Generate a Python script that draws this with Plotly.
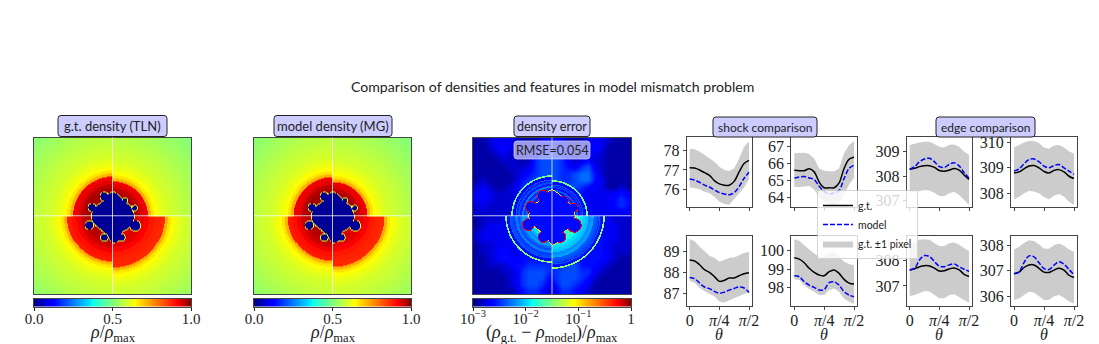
import numpy as np
import plotly.graph_objects as go

# ---------- text ----------
TITLE = "Comparison of densities and features in model mismatch problem"
IMAGE_TITLES = ["g.t. density (TLN)", "model density (MG)", "density error"]
GROUP_TITLES = ["shock comparison", "edge comparison"]
LEGEND_NAMES = ["g.t.", "model", "g.t. ±1 pixel"]

# ---------- line panels: values read at 13 equally spaced angles 0..pi/2 ----------
THETA = [i * np.pi / 24 for i in range(13)]
THETA_TICKS = [0, np.pi / 4, np.pi / 2]
THETA_LABELS = ["0", "<i>π</i>/4", "<i>π</i>/2"]

A_gt = [77.12,77.10,77.0,76.86,76.72,76.45,76.28,76.21,76.21,76.41,76.9,77.33,77.5]
A_model = [76.53,76.48,76.36,76.22,76.12,75.97,75.83,75.76,75.72,75.83,76.14,76.57,76.88]
A_up = [78.1,78.07,77.95,77.78,77.6,77.43,77.17,77.0,76.95,77.09,77.6,78.2,78.47]
A_low = [76.1,76.07,76.0,75.88,75.8,75.62,75.36,75.24,75.2,75.45,75.8,76.1,76.52]

B_gt = [65.6,65.57,65.57,65.68,65.5,64.9,64.56,64.56,64.56,64.85,65.7,66.25,66.37]
B_model = [65.13,65.2,65.22,65.14,65.04,64.65,64.34,64.2,64.25,64.4,65.1,65.7,65.9]
B_up = [66.6,66.6,66.63,66.55,66.3,65.7,65.57,65.53,65.53,65.7,66.6,67.1,67.33]
B_low = [64.6,64.6,64.63,64.67,64.45,64.0,63.75,63.6,63.45,63.65,64.15,64.75,65.15]

E_gt = [88.6,88.55,88.37,88.13,88.0,87.8,87.57,87.62,87.73,87.73,87.84,87.94,87.98]
E_model = [87.76,87.7,87.49,87.3,87.22,87.09,87.0,87.05,87.15,87.23,87.3,87.25,87.04]
E_up = [89.6,89.5,89.25,89.0,88.8,88.7,88.53,88.6,88.7,88.72,88.82,88.93,88.98]
E_low = [87.6,87.5,87.25,87.09,86.98,86.85,86.6,86.55,86.65,86.76,86.85,86.96,87.04]

F_gt = [99.6,99.53,99.34,99.04,98.82,98.68,98.64,98.86,98.95,98.77,98.45,98.25,98.2]
F_model = [98.64,98.59,98.32,98.14,98.02,97.88,97.91,98.27,98.32,98.14,97.79,97.61,97.52]
F_up = [100.6,100.52,100.28,100.05,99.84,99.66,99.66,99.88,99.93,99.66,99.39,99.27,99.21]
F_low = [98.46,98.41,98.14,97.93,97.79,97.61,97.61,97.88,97.96,97.79,97.43,97.25,97.13]

C_gt = [308.27,308.31,308.38,308.42,308.42,308.35,308.22,308.19,308.24,308.3,308.24,308.04,307.86]
C_model = [308.27,308.38,308.58,308.69,308.72,308.58,308.38,308.35,308.47,308.54,308.41,308.14,307.91]
C_up = [309.26,309.32,309.36,309.39,309.39,309.3,309.19,309.16,309.27,309.28,309.19,308.99,308.85]
C_low = [307.3,307.32,307.39,307.43,307.41,307.32,307.19,307.19,307.3,307.36,307.23,307.03,306.82]

D_gt = [308.8,308.84,308.96,309.07,309.09,309.0,308.86,308.8,308.9,308.93,308.84,308.67,308.58]
D_model = [308.87,308.96,309.16,309.33,309.35,309.24,309.07,309.0,309.09,309.13,309.0,308.87,308.74]
D_up = [309.8,309.9,310,310.05,310.05,309.98,309.8,309.75,309.88,309.9,309.8,309.65,309.55]
D_low = [307.77,307.85,308,308.09,308.07,308,307.85,307.77,307.9,307.97,307.87,307.67,307.54]

G_gt = [307.63,307.68,307.76,307.8,307.79,307.7,307.59,307.6,307.67,307.71,307.63,307.46,307.37]
G_model = [307.63,307.7,308.03,308.2,308.16,307.96,307.78,307.76,307.83,307.87,307.76,307.66,307.57]
G_up = [308.62,308.72,308.82,308.84,308.82,308.68,308.58,308.58,308.68,308.71,308.62,308.49,308.38]
G_low = [306.6,306.64,306.71,306.8,306.78,306.64,306.51,306.51,306.64,306.67,306.58,306.45,306.34]

H_gt = [306.89,306.95,307.13,307.23,307.23,307.1,306.95,306.94,307.03,307.1,307.03,306.83,306.74]
H_model = [306.89,306.96,307.32,307.58,307.54,307.31,307.09,307.05,307.22,307.35,307.26,307.05,306.85]
H_up = [307.83,307.93,308.08,308.19,308.16,308.03,307.86,307.86,307.99,308.06,307.97,307.83,307.74]
H_low = [305.87,305.93,306.06,306.19,306.16,306.02,305.87,305.87,306.02,306.06,305.96,305.81,305.74]

# ---------- density fields: values ----------
# shock radius in image pixels per quadrant: upper-right, upper-left, lower-left, lower-right
SHOCK_GT = [35, 40, 46, 52]
SHOCK_MODEL = [34.5, 39.5, 45.5, 51.5]
# density outside the shock, every 3 px of distance from it
DENS_OUTER = [.72,.665,.64,.625,.615,.605,.595,.59,.585,.58,.575,.57,.566,.56,.555,.55,.545,.54,.535,.53,
              .525,.52,.515,.51,.505,.50,.495,.49,.485,.48,.48,.48,.48,.48,.48,.48,.48,.48,.48,.48]
# density inside the shock, per tenth of the shock radius
DENS_INNER_UR = [.975,.975,.975,.975,.975,.975,.97,.955,.93,.92,.92]
DENS_INNER_UL = [.975,.975,.975,.975,.975,.975,.975,.96,.93,.92,.92]
DENS_INNER_LL = [.965,.965,.965,.965,.965,.96,.945,.92,.895,.885,.885]
DENS_INNER_LR = [.935,.935,.935,.935,.935,.93,.91,.885,.875,.87,.87]
# outline of the central blob: radius in px every 15 degrees
CORE_RADIUS = [21.5,20,20.5,18.5,19,21.5,24.7,21.5,18,18,19.5,20.7,21.5,20.5,19,17.5,18,19,27.5,24.6,17.5,18.5,19.5,20]
# round lobes on the outline: dx, dy, radius in px
LOBE_DX = [21.7, 12, -8.7, -21, -23.7, 22.3, -8.7, 8.3]
LOBE_DY = [8.3, 15.7, 20, 9, -8.7, -9.3, -21, -21]
LOBE_R = [2.5, 2.5, 4, 3.7, 4, 5, 3.5, 3.5]

# error (log10), coarse background, one digit = -3 + 0.1*d, top row first
ERR_BACKGROUND = [
    "112333211134431113332111",
    "112343211244442113431111",
    "111232211355553123321111",
    "111122212566653234221111",
    "111112223566654356321111",
    "111111234566655677421111",
    "121111245666655677431111",
    "232112355666656654331121",
    "343222344444444443333343",
    "333222344444444443333454",
    "232222344444444443333454",
    "222222344444444443333333",
    "122233344444444443333222",
    "123333344444444444433322",
    "233333344444444444433322",
    "233333344444444444443322",
    "122333344444444444443222",
    "122343344444444444443222",
    "112344344444444444443211",
    "112223445555556644432111",
    "111122356665566655321111",
    "111112356664566654211111",
    "111112356653466543111111",
    "111111245542355432111111",
]
# error inside the shock, per twentieth of the shock radius
ERR_INNER_UR = [-2.5]*8 + [-2.35,-2.25,-2.5,-2.6,-2.4,-2.55,-2.35,-2.6,-2.45,-2.6,-2.65,-2.6,-2.6]
ERR_INNER_UL = [-2.5]*8 + [-2.35,-2.2,-2.5,-2.55,-2.3,-2.5,-2.25,-2.55,-2.4,-2.55,-2.65,-2.6,-2.6]
ERR_INNER_LL = [-2.1]*8 + [-2.0,-1.95,-2.05,-2.2,-2.15,-2.3,-2.4,-2.25,-2.45,-2.4,-2.6,-2.6,-2.6]
ERR_INNER_LR = [-1.9]*8 + [-1.8,-1.75,-1.85,-1.95,-2.0,-2.05,-2.2,-2.15,-2.35,-2.4,-2.55,-2.6,-2.6]
ERR_SHOCK = [-1.55, -1.55, -1.5, -1.45]
ERR_RIM = -1.0
ERR_LOBE_RIM = -0.25
ERR_TICKS = [-3, -2, -1, 0]
ERR_TICK_LABELS = ["10<sup>−3</sup>", "10<sup>−2</sup>", "10<sup>−1</sup>", "1"]
DENS_TICKS = [0, 0.5, 1]
DENS_TICK_LABELS = ["0.0", "0.5", "1.0"]

JET = [[0, "#00007f"], [.11, "#0000ff"], [.125, "#0000ff"], [.35, "#00e0ff"], [.375, "#0cffeb"],
       [.64, "#ffff00"], [.66, "#ffe900"], [.89, "#ff1300"], [.91, "#ff0000"], [1, "#7f0000"]]

SERIF = "Liberation Serif"
SANS = "Lato"
W, H = 1099, 344


def px(x):
    return x / W


def py(y):
    return 1 - y / H


# ---------- build the fields on the image's pixel grid ----------
cells = np.arange(-78.5, 79, 1.0)
X, Y = np.meshgrid(cells, cells)
RAD = np.hypot(X, Y)
ANG = np.degrees(np.arctan2(Y, X)) % 360
QUAD = np.where(Y >= 0, np.where(X >= 0, 0, 1), np.where(X < 0, 2, 3))

core_edge = np.interp(ANG, np.arange(0, 360, 15), CORE_RADIUS, period=360)


def blob_masks(grow, rim_width):
    inside = RAD < core_edge + grow
    rim = RAD < core_edge + grow + rim_width
    lobes = np.zeros_like(RAD, dtype=bool)
    lobe_rim = np.zeros_like(RAD, dtype=bool)
    for dx, dy, rr in zip(LOBE_DX, LOBE_DY, LOBE_R):
        d = np.hypot(X - dx, Y - dy)
        lobes |= d < rr + grow
        lobe_rim |= d < rr + grow + rim_width
    return inside | lobes, rim & ~(inside | lobes), lobe_rim & ~(inside | lobes)


def density(shock):
    R = np.array(shock, float)[QUAD]
    outer = np.array(DENS_OUTER)[np.clip(((RAD - R) / 3).astype(int), 0, len(DENS_OUTER) - 1)]
    inner_tables = np.array([DENS_INNER_UR, DENS_INNER_UL, DENS_INNER_LL, DENS_INNER_LR])
    inner = inner_tables[QUAD, np.clip((RAD / R * 10).astype(int), 0, 10)]
    z = np.where(RAD > R, outer, inner)
    blob, rim, lobe_rim = blob_masks(0, 0.8)
    z[rim | lobe_rim] = 0.62
    z[blob] = 0.02
    return z


def error_overlay():
    R = np.array(SHOCK_GT, float)[QUAD]
    tables = np.array([ERR_INNER_UR, ERR_INNER_UL, ERR_INNER_LL, ERR_INNER_LR])
    z = tables[QUAD, np.clip((RAD / R * 20).astype(int), 0, 20)].astype(float)
    z[np.abs(RAD - R + 4) < 0.5] = -2.35
    ring = np.abs(RAD - R) < 0.8
    z[ring] = np.array(ERR_SHOCK)[QUAD][ring]
    z[RAD > R + 0.8] = np.nan
    blob, rim, lobe_rim = blob_masks(1.4, 0.9)
    z[rim] = ERR_RIM
    z[lobe_rim] = ERR_LOBE_RIM
    z[blob] = np.nan
    return z


err_coarse = -3 + 0.1 * np.array([[int(c) for c in row] for row in ERR_BACKGROUND[::-1]], float)
coarse_cells = np.linspace(-79 + 158 / 48, 79 - 158 / 48, 24)

fig = go.Figure()

IMAGE_PANELS = [(34, 191), (254, 411), (473, 631)]
IMG_TOP, IMG_BOTTOM = 137.5, 294
BAR_TOP, BAR_BOTTOM = 298.5, 306.5
layout = {}
INK = "#222222"


def style_frame(ax):
    ax.update(mirror=True, showline=True, linecolor="#444444", linewidth=1, showgrid=False, zeroline=False,
              automargin=False)
    return ax


for i, (x0, x1) in enumerate(IMAGE_PANELS):
    n = i + 1
    suffix = "" if n == 1 else str(n)
    layout["xaxis" + suffix] = style_frame(dict(domain=[px(x0), px(x1)], range=[-79, 79], anchor="y" + suffix,
                                                showticklabels=False, ticks=""))
    layout["yaxis" + suffix] = style_frame(dict(domain=[py(IMG_BOTTOM), py(IMG_TOP)], range=[-79, 79], anchor="x" + suffix,
                                                showticklabels=False, ticks=""))
    xa, ya = "x" + suffix, "y" + suffix
    if i < 2:
        fig.add_trace(go.Heatmap(x=cells, y=cells, z=density(SHOCK_GT if i == 0 else SHOCK_MODEL), zsmooth="best",
                                 colorscale=JET, zmin=0, zmax=1, xaxis=xa, yaxis=ya, hoverinfo="skip", showscale=False))
    else:
        fig.add_trace(go.Heatmap(x=coarse_cells, y=coarse_cells, z=err_coarse, zsmooth="best",
                                 colorscale=JET, zmin=-3, zmax=0, xaxis=xa, yaxis=ya, hoverinfo="skip", showscale=False))
        fig.add_trace(go.Heatmap(x=cells, y=cells, z=error_overlay(),
                                 colorscale=JET, zmin=-3, zmax=0, xaxis=xa, yaxis=ya, hoverinfo="skip", showscale=False))
    # colour bar as a small axis of its own
    lo, hi = (0.0, 1.0) if i < 2 else (-3.0, 0.0)
    nb = 20 + i
    bar_values = np.linspace(lo, hi, 256)
    layout[f"xaxis{nb}"] = style_frame(dict(domain=[px(x0), px(x1)], range=[lo, hi], anchor=f"y{nb}", ticks="outside",
                                            ticklen=3, tickcolor=INK, side="bottom", ticklabelstandoff=-5,
                                            tickvals=DENS_TICKS if i < 2 else ERR_TICKS,
                                            ticktext=DENS_TICK_LABELS if i < 2 else ERR_TICK_LABELS,
                                            tickfont=dict(family=SERIF, size=15, color=INK)))
    layout[f"yaxis{nb}"] = style_frame(dict(domain=[py(BAR_BOTTOM), py(BAR_TOP)], range=[0, 1], anchor=f"x{nb}",
                                            showticklabels=False, ticks=""))
    fig.add_trace(go.Heatmap(x=bar_values, y=[0, 1], z=[bar_values, bar_values], colorscale=JET, zmin=lo, zmax=hi,
                             xaxis=f"x{nb}", yaxis=f"y{nb}", showscale=False, hoverinfo="skip"))

# ---------- line panels ----------
COLS = [(686.7, 752), (791.3, 857), (906.7, 972), (1011, 1077)]
ROWS = [(137.3, 207.3), (236, 305.7)]
LINE_PANELS = [
    (0, 0, A_gt, A_model, A_up, A_low, [75.07, 78.69], [76, 77, 78]),
    (1, 0, B_gt, B_model, B_up, B_low, [63.4, 67.55], [64, 65, 66, 67]),
    (0, 1, E_gt, E_model, E_up, E_low, [86.4, 89.75], [87, 88, 89]),
    (1, 1, F_gt, F_model, F_up, F_low, [97.04, 100.77], [98, 99, 100]),
    (2, 0, C_gt, C_model, C_up, C_low, [306.73, 309.57], [307, 308, 309]),
    (3, 0, D_gt, D_model, D_up, D_low, [307.45, 310.2], [308, 309, 310]),
    (2, 1, G_gt, G_model, G_up, G_low, [306.22, 308.97], [307, 308]),
    (3, 1, H_gt, H_model, H_up, H_low, [305.65, 308.35], [306, 307, 308]),
]
xr = [-0.05 * np.pi / 2, 1.05 * np.pi / 2]
for k, (c, r, gt, model, up, low, yrange, yticks) in enumerate(LINE_PANELS):
    n = k + 4
    xa, ya = f"x{n}", f"y{n}"
    x0, x1 = COLS[c]
    t, b = ROWS[r]
    layout[f"xaxis{n}"] = style_frame(dict(domain=[px(x0), px(x1)], range=xr, anchor=ya, ticks="outside", ticklen=3,
                                           tickcolor="#444444", tickvals=THETA_TICKS, ticktext=THETA_LABELS,
                                           showticklabels=r == 1, ticklabelstandoff=-3,
                                           tickfont=dict(family=SERIF, size=16, color=INK)))
    layout[f"yaxis{n}"] = style_frame(dict(domain=[py(b), py(t)], range=yrange, anchor=xa, ticks="outside", ticklen=3,
                                           tickcolor="#444444", tickvals=yticks, ticktext=[str(v) for v in yticks],
                                           tickfont=dict(family=SERIF, size=16, color=INK)))
    first = k == 0
    fig.add_trace(go.Scatter(x=THETA + THETA[::-1], y=up + low[::-1], fill="toself", mode="lines",
                             fillcolor="#cccccc", line=dict(width=0, color="#cccccc"),
                             name=LEGEND_NAMES[2], showlegend=first, legendrank=3,
                             xaxis=xa, yaxis=ya, hoverinfo="skip"))
    fig.add_trace(go.Scatter(x=THETA, y=gt, mode="lines", line=dict(color="black", width=1.5, shape="spline"),
                             name=LEGEND_NAMES[0], showlegend=first, legendrank=1, xaxis=xa, yaxis=ya))
    fig.add_trace(go.Scatter(x=THETA, y=model, mode="lines",
                             line=dict(color="#0000ff", width=1.5, dash="5px,2px", shape="spline"),
                             name=LEGEND_NAMES[1], showlegend=first, legendrank=2, xaxis=xa, yaxis=ya))


# ---------- decorations ----------
def rounded(x0, y0, x1, y1, fill, line=INK, lw=1, rad=3):
    path = (f"M {px(x0 + rad)} {py(y0)} L {px(x1 - rad)} {py(y0)} Q {px(x1)} {py(y0)} {px(x1)} {py(y0 + rad)} "
            f"L {px(x1)} {py(y1 - rad)} Q {px(x1)} {py(y1)} {px(x1 - rad)} {py(y1)} "
            f"L {px(x0 + rad)} {py(y1)} Q {px(x0)} {py(y1)} {px(x0)} {py(y1 - rad)} "
            f"L {px(x0)} {py(y0 + rad)} Q {px(x0)} {py(y0)} {px(x0 + rad)} {py(y0)} Z")
    return dict(type="path", path=path, xref="paper", yref="paper", fillcolor=fill,
                line=dict(color=line, width=lw), layer="above")


def text(x, y, s, size=12, family=SANS, color=INK):
    return dict(x=px(x), y=py(y), xref="paper", yref="paper", text=s, showarrow=False,
                xanchor="center", yanchor="middle", font=dict(family=family, size=size, color=color))


LAV = "#ccccff"
shapes = [
    rounded(58, 115.5, 167, 136.5, LAV),
    rounded(274, 115.5, 392, 136.5, LAV),
    rounded(514, 116, 590, 136.5, LAV),
    rounded(713, 117, 817, 137, LAV),
    rounded(936, 117, 1035, 137, LAV),
]
# crosshairs on the three density images, at the data origin
for suffix in ["", "2", "3"]:
    shapes.append(dict(type="line", xref="x" + suffix, yref="y" + suffix + " domain", x0=0, x1=0, y0=0, y1=1,
                       line=dict(color="rgba(255,255,255,0.75)", width=1), layer="above"))
    shapes.append(dict(type="line", xref="x" + suffix + " domain", yref="y" + suffix, x0=0, x1=1, y0=0, y1=0,
                       line=dict(color="rgba(255,255,255,0.75)", width=1), layer="above"))
shapes.append(rounded(514, 141, 590, 159, "rgba(204,204,255,0.75)", line="rgba(204,204,255,0.75)"))

RHO_MAX = "<i>ρ</i>/<i>ρ</i><sub>max</sub>"
THETA_LABEL = "<i>θ</i>"
annotations = [
    text(552, 86, TITLE, size=14.1),
    text(112.5, 125.5, IMAGE_TITLES[0], size=13),
    text(333, 125.5, IMAGE_TITLES[1], size=13),
    text(552, 126, IMAGE_TITLES[2], size=12.5),
    text(765, 127, GROUP_TITLES[0], size=12),
    text(985.5, 127, GROUP_TITLES[1], size=12),
    text(552, 150, "RMSE=0.054", size=12.5),
    text(112.5, 333, RHO_MAX, size=18, family=SERIF),
    text(332.5, 333, RHO_MAX, size=18, family=SERIF),
    text(552, 333, "(<i>ρ</i><sub>g.t.</sub> − <i>ρ</i><sub>model</sub>)/<i>ρ</i><sub>max</sub>", size=18, family=SERIF),
]
for x0, x1 in COLS:
    annotations.append(text((x0 + x1) / 2, 334.5, THETA_LABEL, size=16, family=SERIF))

fig.update_layout(
    width=W, height=H, margin=dict(l=0, r=0, t=0, b=0), paper_bgcolor="white", plot_bgcolor="white",
    showlegend=True, shapes=shapes, annotations=annotations,
    legend=dict(x=px(817), y=py(190), xanchor="left", yanchor="top", bgcolor="rgba(255,255,255,0.8)",
                bordercolor="rgba(204,204,204,0.8)", borderwidth=1, itemwidth=30, tracegroupgap=0,
                font=dict(family=SANS, size=10.5, color=INK)),
    **layout,
)
fig.write_html("out.html", post_script="document.body.style.margin='0';document.body.style.overflow='hidden';",
               config={"displayModeBar": False})
